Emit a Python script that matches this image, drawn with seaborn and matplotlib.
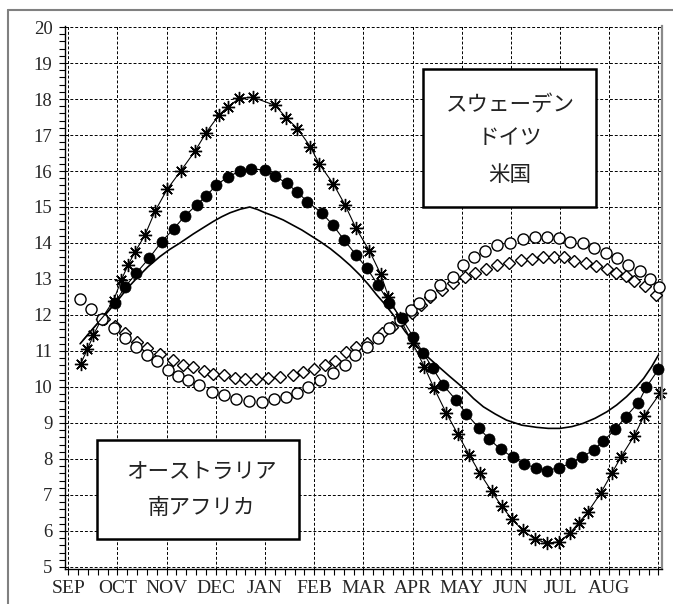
# day length through the year (SEP - AUG) for five countries
# northern group: Sweden (asterisk), Germany (filled circle), USA (line)
# southern group: Australia (open circle), South Africa (diamond)

import matplotlib.pyplot as plt
from matplotlib.patches import Rectangle
from matplotlib.lines import Line2D
from matplotlib.ticker import MultipleLocator
import seaborn as sns

months = ['SEP', 'OCT', 'NOV', 'DEC', 'JAN', 'FEB', 'MAR', 'APR', 'MAY', 'JUN', 'JUL', 'AUG']

# Sweden (x in months from start of SEP, y in hours)
sweden_x = [0.25, 0.39, 0.51, 0.68, 0.92, 1.08, 1.22, 1.36, 1.56, 1.77,
            2.01, 2.29, 2.58, 2.80, 3.06, 3.25, 3.48, 3.75, 4.21, 4.43,
            4.66, 4.92, 5.10, 5.39, 5.63, 5.85, 6.12, 6.35, 6.51, 6.74,
            7.00, 7.24, 7.44, 7.68, 7.92, 8.15, 8.37, 8.61, 8.81, 9.02,
            9.24, 9.48, 9.73, 9.98, 10.20, 10.38, 10.56, 10.83, 11.05, 11.24,
            11.51, 11.71, 12.03]
sweden_y = [10.64, 11.05, 11.44, 11.90, 12.40, 12.98, 13.40, 13.76, 14.22, 14.90,
            15.49, 16.01, 16.56, 17.06, 17.55, 17.79, 18.02, 18.05, 17.82, 17.48,
            17.18, 16.68, 16.20, 15.64, 15.05, 14.41, 13.79, 13.14, 12.51, 11.91,
            11.22, 10.56, 9.96, 9.29, 8.69, 8.12, 7.60, 7.10, 6.69, 6.33,
            6.02, 5.78, 5.66, 5.70, 5.94, 6.23, 6.52, 7.06, 7.60, 8.06,
            8.65, 9.20, 9.82]

# Germany
germany_x = [0.30, 0.95, 1.15, 1.38, 1.65, 1.90, 2.14, 2.37, 2.61, 2.80,
             3.01, 3.24, 3.49, 3.71, 3.99, 4.20, 4.44, 4.66, 4.86, 5.15,
             5.38, 5.61, 5.85, 6.07, 6.30, 6.53, 6.78, 7.01, 7.22, 7.41,
             7.62, 7.88, 8.09, 8.35, 8.56, 8.79, 9.04, 9.27, 9.51, 9.74,
             9.98, 10.22, 10.44, 10.68, 10.88, 11.12, 11.34, 11.59, 11.75, 12.00]
germany_y = [11.30, 12.34, 12.77, 13.16, 13.59, 14.04, 14.39, 14.75, 15.06, 15.30,
             15.61, 15.83, 16.00, 16.06, 16.03, 15.86, 15.66, 15.41, 15.15, 14.84,
             14.50, 14.08, 13.67, 13.30, 12.83, 12.33, 11.91, 11.40, 10.94, 10.52,
             10.06, 9.64, 9.26, 8.86, 8.55, 8.27, 8.05, 7.86, 7.75, 7.68,
             7.76, 7.88, 8.05, 8.25, 8.50, 8.82, 9.18, 9.56, 9.99, 10.49]

# USA (line only)
usa_x = [0.24, 0.50, 0.78, 1.02, 1.20, 1.39, 1.62, 1.86, 2.06, 2.27,
         2.54, 2.75, 2.95, 3.12, 3.29, 3.50, 3.69, 3.85, 4.00, 4.18,
         4.37, 4.75, 5.12, 5.33, 5.53, 5.73, 5.93, 6.10, 6.27, 6.43,
         6.58, 6.72, 6.85, 7.00, 7.15, 7.32, 7.50, 7.75, 8.00, 8.24,
         8.44, 8.68, 8.91, 9.22, 9.52, 9.76, 10.00, 10.24, 10.47, 10.71,
         10.95, 11.15, 11.35, 11.52, 11.70, 11.86, 12.00]
usa_y = [11.20, 11.62, 12.05, 12.43, 12.74, 13.02, 13.34, 13.62, 13.82, 14.00,
         14.25, 14.43, 14.60, 14.73, 14.84, 14.94, 15.00, 14.93, 14.84, 14.75,
         14.64, 14.36, 14.04, 13.84, 13.62, 13.38, 13.11, 12.85, 12.56, 12.31,
         12.05, 11.80, 11.54, 11.29, 11.03, 10.82, 10.60, 10.30, 10.01, 9.68,
         9.45, 9.25, 9.08, 8.94, 8.88, 8.85, 8.85, 8.90, 8.99, 9.13,
         9.31, 9.50, 9.73, 9.96, 10.24, 10.56, 10.89]

# Australia
australia_x = [0.24, 0.46, 0.68, 0.92, 1.15, 1.38, 1.61, 1.80, 2.03, 2.24,
               2.44, 2.66, 2.92, 3.17, 3.41, 3.68, 3.93, 4.18, 4.43, 4.66,
               4.88, 5.12, 5.39, 5.63, 5.83, 6.07, 6.30, 6.53, 6.75, 6.96,
               7.14, 7.35, 7.56, 7.82, 8.03, 8.25, 8.47, 8.71, 8.98, 9.24,
               9.49, 9.74, 9.98, 10.21, 10.46, 10.69, 10.93, 11.16, 11.39, 11.62,
               11.83, 12.02]
australia_y = [12.44, 12.17, 11.88, 11.63, 11.35, 11.12, 10.89, 10.72, 10.47, 10.31,
               10.19, 10.06, 9.87, 9.78, 9.67, 9.62, 9.59, 9.66, 9.71, 9.82,
               10.01, 10.19, 10.40, 10.61, 10.89, 11.12, 11.35, 11.63, 11.86, 12.14,
               12.34, 12.56, 12.83, 13.06, 13.39, 13.60, 13.79, 13.94, 14.01, 14.11,
               14.18, 14.16, 14.13, 14.04, 13.99, 13.85, 13.73, 13.58, 13.39, 13.23,
               12.99, 12.79]

# South Africa
safrica_x = [0.72, 0.95, 1.16, 1.40, 1.60, 1.86, 2.12, 2.34, 2.54, 2.76,
             2.95, 3.17, 3.38, 3.60, 3.82, 4.07, 4.31, 4.56, 4.77, 5.00,
             5.22, 5.42, 5.65, 5.86, 6.08, 6.37, 6.58, 6.78, 6.98, 7.17,
             7.35, 7.59, 7.83, 8.07, 8.27, 8.50, 8.71, 8.97, 9.20, 9.42,
             9.65, 9.88, 10.07, 10.28, 10.53, 10.73, 10.95, 11.14, 11.34, 11.50,
             11.73, 11.96]
safrica_y = [11.88, 11.70, 11.49, 11.26, 11.08, 10.92, 10.74, 10.61, 10.55, 10.45,
             10.36, 10.32, 10.26, 10.22, 10.23, 10.26, 10.29, 10.33, 10.41, 10.49,
             10.60, 10.72, 10.98, 11.12, 11.23, 11.49, 11.67, 11.86, 12.05, 12.28,
             12.49, 12.69, 12.88, 13.05, 13.16, 13.27, 13.39, 13.45, 13.53, 13.56,
             13.60, 13.60, 13.60, 13.51, 13.45, 13.36, 13.27, 13.18, 13.08, 12.95,
             12.81, 12.56]

north_labels = ['スウェーデン', 'ドイツ', '米国']
south_labels = ['オーストラリア', '南アフリカ']

sns.set_style("ticks")
plt.rcParams['font.family'] = ['Liberation Serif', 'Noto Sans CJK JP', 'DejaVu Sans']

fig = plt.figure(figsize=(6.73, 6.04), dpi=100)
ax = fig.add_axes([65/673, 1 - 569/604, 597/673, 543/604])

# USA - plain line
sns.lineplot(x=usa_x, y=usa_y, ax=ax, sort=False, estimator=None,
             color='black', linewidth=1.2, zorder=2)

# Sweden - asterisks joined by a thin line
sns.lineplot(x=sweden_x, y=sweden_y, ax=ax, sort=False, estimator=None,
             color='black', linewidth=0.8, marker=(8, 2, 0), markersize=9.5,
             markeredgecolor='black', markeredgewidth=1.0, zorder=2.2, clip_on=False)

# South Africa - open diamonds, no line
sns.lineplot(x=safrica_x, y=safrica_y, ax=ax, sort=False, estimator=None,
             color='black', linestyle='none', marker='D', markersize=6.5,
             markerfacecolor='white', markeredgecolor='black', markeredgewidth=1.0,
             zorder=2.6)

# Australia - open circles, no line
sns.lineplot(x=australia_x, y=australia_y, ax=ax, sort=False, estimator=None,
             color='black', linestyle='none', marker='o', markersize=8,
             markerfacecolor='white', markeredgecolor='black', markeredgewidth=1.0,
             zorder=2.8, clip_on=False)

# Germany - filled circles joined by a thin line (first point has no marker)
sns.lineplot(x=germany_x, y=germany_y, ax=ax, sort=False, estimator=None,
             color='black', linewidth=0.8, marker='o', markersize=8,
             markevery=list(range(1, len(germany_x))),
             markerfacecolor='black', markeredgecolor='black', markeredgewidth=0.5,
             zorder=3, clip_on=False)

# axes limits, ticks and grid
ax.set_xlim(-0.067, 12.072)
ax.set_ylim(4.944, 20.028)
ax.set_xticks(range(13))
ax.set_xticklabels(months + [''])
ax.set_yticks(range(5, 21))
ax.xaxis.set_minor_locator(MultipleLocator(0.2))
ax.yaxis.set_minor_locator(MultipleLocator(0.2))
ax.tick_params(which='both', direction='out', length=4, width=0.8, color='black')
ax.tick_params(axis='y', which='major', labelsize=13.5, pad=5)
ax.tick_params(axis='x', which='major', labelsize=14, pad=4)
ax.set_xlabel('')
ax.set_ylabel('')
ax.grid(True, which='major', color='black', linestyle=(0, (3, 2)), linewidth=0.7)
ax.set_axisbelow(True)

ax.spines['top'].set_visible(False)
ax.spines['left'].set_color('black')
ax.spines['bottom'].set_color('black')
ax.spines['left'].set_linewidth(1.0)
ax.spines['bottom'].set_linewidth(1.0)
ax.spines['right'].set_color('#8a8a8a')
ax.spines['right'].set_linewidth(1.6)

# label boxes
cjk = ['Noto Sans CJK JP', 'DejaVu Sans']
ax.add_patch(Rectangle((7.22, 15.01), 3.51, 3.82, facecolor='white',
                       edgecolor='black', linewidth=1.8, zorder=5))
for txt, yy in zip(north_labels, [17.83, 16.92, 15.89]):
    ax.text(8.98, yy, txt, ha='center', va='center', fontsize=15.5,
            family=cjk, color='#222222', zorder=6)

ax.add_patch(Rectangle((0.577, 5.77), 4.11, 2.76, facecolor='white',
                       edgecolor='black', linewidth=1.8, zorder=5))
for txt, yy in zip(south_labels, [7.64, 6.64]):
    ax.text(2.71, yy, txt, ha='center', va='center', fontsize=15.5,
            family=cjk, color='#222222', zorder=6)

# grey outer frame (left and top edges only)
fig.add_artist(Line2D([8/673, 8/673], [0, 1 - 10/604], transform=fig.transFigure,
                      color='#808080', linewidth=1.5))
fig.add_artist(Line2D([8/673, 1], [1 - 10/604, 1 - 10/604], transform=fig.transFigure,
                      color='#808080', linewidth=1.5))

fig.savefig('out.png', dpi=100)
